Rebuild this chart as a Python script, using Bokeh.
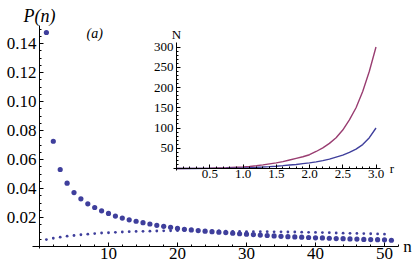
from bokeh.plotting import figure
from bokeh.models import Range1d, LinearAxis, FixedTicker, Label
from bokeh.embed import file_html
from bokeh.resources import INLINE

# ---- data: main panel P(n) ----
n_big = list(range(1, 52))
p_big = [0.1476, 0.0726, 0.0531, 0.0437, 0.0372, 0.0329, 0.0294, 0.0269, 0.0246, 0.0228,
         0.0210, 0.0196, 0.0184, 0.0174, 0.0164, 0.0155, 0.0146, 0.0139, 0.0132, 0.0125,
         0.0119, 0.0114, 0.0110, 0.0106, 0.0102, 0.0099, 0.0096, 0.0092, 0.0088, 0.0085,
         0.0082, 0.0079, 0.0076, 0.0073, 0.0070, 0.0068, 0.0066, 0.0064, 0.0062, 0.0060,
         0.0059, 0.0057, 0.0055, 0.0054, 0.0052, 0.0051, 0.0049, 0.0048, 0.0047, 0.0046,
         0.0043]
n_small = list(range(1, 51))
p_small = [0.0048, 0.0057, 0.0064, 0.0071, 0.0076, 0.0081, 0.0085, 0.0089, 0.0093, 0.0095,
           0.0098, 0.0100, 0.0102, 0.0104, 0.0105, 0.0106, 0.0107, 0.0108, 0.0108, 0.0109,
           0.0109, 0.0109, 0.0108, 0.0108, 0.0107, 0.0107, 0.0106, 0.0105, 0.0104, 0.0103,
           0.0103, 0.0102, 0.0102, 0.0101, 0.0101, 0.0100, 0.0100, 0.0099, 0.0098, 0.0097,
           0.0096, 0.0095, 0.0093, 0.0092, 0.0091, 0.0090, 0.0089, 0.0088, 0.0087, 0.0085]
x_ticks = [10, 20, 30, 40, 50]
x_tick_labels = ["10", "20", "30", "40", "50"]
y_ticks = [0.02, 0.04, 0.06, 0.08, 0.10, 0.12, 0.14]
y_tick_labels = ["0.02", "0.04", "0.06", "0.08", "0.10", "0.12", "0.14"]

# ---- data: inset N(r) ----
r_vals = [0, 0.25, 0.5, 0.75, 1.0, 1.1, 1.2, 1.3, 1.4, 1.5, 1.6, 1.7, 1.8, 1.9,
          2.0, 2.1, 2.2, 2.3, 2.4, 2.5, 2.6, 2.7, 2.8, 2.9, 3.0]
N_red = [0, 0.2, 0.6, 1.8, 3.8, 5, 6.8, 9, 11.5, 14, 17, 21, 25, 29,
         34, 42, 51, 62, 76, 95, 120, 150, 190, 240, 300]
N_blue = [0, 0.05, 0.2, 0.6, 1.5, 2.1, 2.8, 3.6, 4.6, 5.7, 7, 8.5, 10, 12,
          14, 16.5, 19.5, 23, 28, 33, 40, 48, 59, 76, 100]
r_ticks = [0.5, 1.0, 1.5, 2.0, 2.5, 3.0]
r_tick_labels = ["0.5", "1.0", "1.5", "2.0", "2.5", "3.0"]
N_ticks = [50, 100, 150, 200, 250, 300]
N_tick_labels = ["50", "100", "150", "200", "250", "300"]

BLUE = "#3f3f9c"
RED = "#993d71"
SERIF = "'Liberation Serif', 'Times New Roman', serif"

W, H = 415, 269
# main scale: px = 39 + 6.9*n ; y px = 246 - 1450*P
p = figure(width=W, height=H, output_backend="svg", toolbar_location=None,
           x_range=Range1d(-39 / 6.9, (W - 39) / 6.9),
           y_range=Range1d(-(H - 246) / 1450, 246 / 1450))
p.min_border = 0
p.min_border_left = 0
p.min_border_right = 0
p.min_border_top = 0
p.min_border_bottom = 0
p.outline_line_color = None
p.grid.visible = False
p.background_fill_color = "white"
p.border_fill_color = "white"

def style_axis(ax, size, standoff, tin, tmin):
    ax.axis_line_color = "black"
    ax.axis_line_width = 1
    ax.major_tick_line_color = "black"
    ax.minor_tick_line_color = "black"
    ax.major_tick_out = 0
    ax.minor_tick_out = 0
    ax.major_tick_in = tin
    ax.minor_tick_in = tmin
    ax.major_label_text_font = SERIF
    ax.major_label_text_font_size = size
    ax.major_label_text_color = "black"
    ax.major_label_standoff = standoff

xa = p.xaxis[0]
xa.fixed_location = 0
xa.bounds = (-1, 52)
xa.ticker = FixedTicker(ticks=x_ticks, minor_ticks=[v for v in range(0, 53, 2) if v % 10 != 0])
xa.major_label_overrides = {t: l for t, l in zip(x_ticks, x_tick_labels)}
style_axis(xa, "17px", 1, 4, 2)

ya = p.yaxis[0]
ya.fixed_location = 0
ya.bounds = (-0.0014, 0.1524)
ya.ticker = FixedTicker(ticks=y_ticks, minor_ticks=[round(0.005 * k, 3) for k in range(1, 31) if k % 4 != 0])
ya.major_label_overrides = {t: l for t, l in zip(y_ticks, y_tick_labels)}
style_axis(ya, "17px", 3, 4, 2)

p.scatter(n_small, p_small, size=2.8, color=BLUE, line_color=None)
p.scatter(n_big, p_big, size=5.2, color=BLUE, line_color=None)

p.add_layout(Label(x=0, y=0.1524, y_offset=10, text="P(n)", text_font=SERIF, text_font_style="italic",
                   text_font_size="18px", text_align="center", text_baseline="alphabetic", text_color="black"))
p.add_layout(Label(x=52, y=0, x_offset=5, text="n", text_font=SERIF, text_font_size="17px",
                   text_align="left", text_baseline="middle", text_color="black"))
p.add_layout(Label(x=8, y=0.14, y_offset=10, text="(a)", text_font=SERIF, text_font_style="italic",
                   text_font_size="14px", text_align="center", text_baseline="middle", text_color="black"))

# ---- inset: px = 176 + 66.5*r ; y px = 168 - 0.405*N ----
p.extra_x_ranges = {"r": Range1d(-176 / 66.5, (W - 176) / 66.5)}
p.extra_y_ranges = {"N": Range1d(-(H - 168) / 0.405, 168 / 0.405)}

ra = LinearAxis(x_range_name="r", y_range_name="N")
ra.fixed_location = 0
ra.bounds = (-0.045, 3.07)
ra.ticker = FixedTicker(ticks=r_ticks, minor_ticks=[round(0.1 * k, 1) for k in range(1, 31) if k % 5 != 0])
ra.major_label_overrides = {t: l for t, l in zip(r_ticks, r_tick_labels)}
style_axis(ra, "13px", 1, 4, 2)
p.add_layout(ra, "below")

Na = LinearAxis(x_range_name="r", y_range_name="N")
Na.fixed_location = 0
Na.bounds = (-5, 311)
Na.ticker = FixedTicker(ticks=N_ticks, minor_ticks=[10 * k for k in range(1, 31) if k % 5 != 0])
Na.major_label_overrides = {t: l for t, l in zip(N_ticks, N_tick_labels)}
style_axis(Na, "13px", 3, 4, 2)
p.add_layout(Na, "left")

p.line(r_vals, N_red, x_range_name="r", y_range_name="N", line_color=RED, line_width=1.4)
p.line(r_vals, N_blue, x_range_name="r", y_range_name="N", line_color=BLUE, line_width=1.4)

p.add_layout(Label(x=0, y=311, x_range_name="r", y_range_name="N", y_offset=8, text="N",
                   text_font=SERIF, text_font_size="13px", text_align="center",
                   text_baseline="alphabetic", text_color="black"))
p.add_layout(Label(x=3.07, y=0, x_range_name="r", y_range_name="N", x_offset=9, text="r",
                   text_font=SERIF, text_font_size="13px", text_align="left",
                   text_baseline="middle", text_color="black"))

open("out.html", "w").write(file_html(p, INLINE))
